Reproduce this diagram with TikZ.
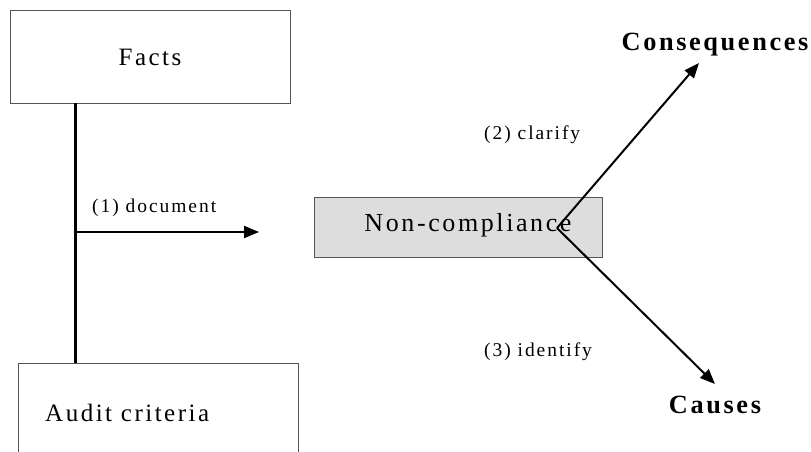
\documentclass[tikz,border=0pt]{standalone}
\usepackage{fontspec}
\setmainfont{Liberation Serif}
\newfontfamily\spacedfont[LetterSpace=10]{Liberation Serif}
\usetikzlibrary{arrows.meta}
\definecolor{boxgray}{HTML}{DDDDDD}
\definecolor{edgegray}{HTML}{555555}
\begin{document}
\begin{tikzpicture}[x=1pt,y=-1pt,
  plainbox/.style={draw=edgegray,line width=1pt,rectangle,inner sep=0pt},
  biglabel/.style={font=\spacedfont\fontsize{25}{30}\selectfont,inner sep=0pt},
  smalllabel/.style={font=\spacedfont\fontsize{19.5}{23}\selectfont,inner sep=0pt},
  boldlabel/.style={font=\spacedfont\bfseries\fontsize{26.3}{31}\selectfont,inner sep=0pt},
  arrowline/.style={line width=2pt,-{Triangle[length=15pt,width=12pt]}}]
\useasboundingbox (0,0) rectangle (811,452);
\node[plainbox,minimum width=280pt,minimum height=92pt,biglabel] (facts) at (150,57) {Facts};
\node[plainbox,minimum width=280pt,minimum height=100pt] (audit) at (158,413) {};
\node[biglabel,anchor=west] (audittext) at (45,413) {Audit criteria};
\node[plainbox,fill=boxgray,minimum width=288pt,minimum height=60pt] (nc) at (458,227) {};
\node[biglabel,font=\spacedfont\fontsize{26}{31}\selectfont] (nctext) at (468,225) {Non-compliance};
\coordinate (top) at (75,103);
\coordinate (bot) at (75,363);
\coordinate (junc) at (75,232);
\coordinate (docend) at (259,232);
\coordinate (v) at (557,228);
\coordinate (ctip) at (699,63);
\coordinate (ktip) at (715,384);
\draw[line width=3pt] (top) -- (bot);
\draw[arrowline] (junc) -- (docend);
\draw[arrowline] (v) -- (ctip);
\draw[arrowline] (v) -- (ktip);
\node[smalllabel,anchor=west] (l1) at (92,208) {(1) document};
\node[smalllabel,anchor=west] (l2) at (484,135) {(2) clarify};
\node[smalllabel,anchor=west] (l3) at (484,352) {(3) identify};
\node[boldlabel] (cons) at (715,45) {Consequences};
\node[boldlabel] (causes) at (715,405) {Causes};
\end{tikzpicture}
\end{document}
